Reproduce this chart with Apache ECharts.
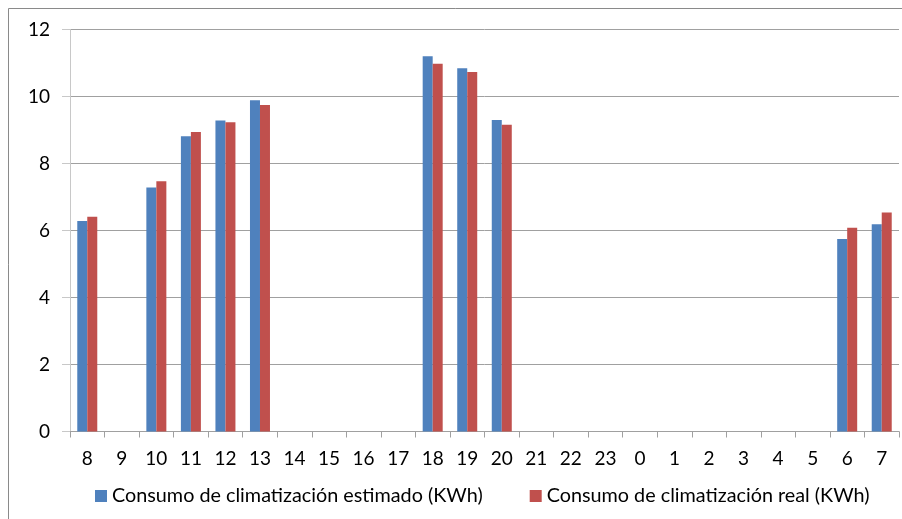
<!DOCTYPE html>
<html>
<head>
<meta charset="utf-8">
<script src="https://cdn.jsdelivr.net/npm/echarts@6/dist/echarts.min.js"></script>
<style>
html,body{margin:0;padding:0;background:#fff;}
#c{width:902px;height:519px;}
</style>
</head>
<body>
<div id="c"></div>
<script>
var hours = ['8','9','10','11','12','13','14','15','16','17','18','19','20','21','22','23','0','1','2','3','4','5','6','7'];
var estimado = [6.28, null, 7.28, 8.81, 9.28, 9.89, null, null, null, null, 11.20, 10.84, 9.30, null, null, null, null, null, null, null, null, null, 5.75, 6.19];
var real = [6.41, null, 7.47, 8.94, 9.23, 9.75, null, null, null, null, 10.98, 10.73, 9.16, null, null, null, null, null, null, null, null, null, 6.08, 6.54];
var seriesNames = ['Consumo de climatización estimado (KWh)', 'Consumo de climatización real (KWh)'];
var yTicks = [0, 2, 4, 6, 8, 10, 12];

var font = 'Lato';
var chart = echarts.init(document.getElementById('c'), null, {renderer: 'canvas'});
chart.setOption({
  animation: false,
  backgroundColor: '#fff',
  graphic: [{
    type: 'rect', silent: true, z: -1,
    shape: {x: 8.5, y: 8.5, width: 900, height: 520},
    style: {fill: null, stroke: '#8a8a8a', lineWidth: 1}
  }],
  grid: {left: 70, right: 3, top: 29.5, bottom: 87.5, containLabel: false},
  legend: {
    left: 95, top: 486, padding: 0,
    itemWidth: 12, itemHeight: 12, itemGap: 47,
    icon: 'rect',
    textStyle: {fontFamily: font, fontSize: 19.8, color: '#000'},
    data: seriesNames
  },
  xAxis: {
    type: 'category', data: hours,
    axisLine: {lineStyle: {color: '#a0a0a0', width: 1}},
    axisTick: {show: true, length: 6, alignWithLabel: false, lineStyle: {color: '#a0a0a0'}},
    axisLabel: {fontFamily: font, fontSize: 19, color: '#000', margin: 18, interval: 0}
  },
  yAxis: {
    type: 'value', min: 0, max: 12, interval: 2,
    axisLine: {show: true, lineStyle: {color: '#c8c8c8', width: 1}},
    axisTick: {show: true, length: 8, lineStyle: {color: '#c8c8c8'}},
    axisLabel: {fontFamily: font, fontSize: 19, color: '#000', margin: 20,
      formatter: function(v){ return yTicks.indexOf(v) >= 0 ? String(v) : ''; }},
    splitLine: {lineStyle: {color: '#a0a0a0', width: 1}}
  },
  series: [
    {name: seriesNames[0], type: 'bar', data: estimado, barWidth: 10, barGap: '0%',
      itemStyle: {color: '#4f81bd'}},
    {name: seriesNames[1], type: 'bar', data: real, barWidth: 10, barGap: '0%',
      itemStyle: {color: '#c0504d'}}
  ]
});
</script>
</body>
</html>
